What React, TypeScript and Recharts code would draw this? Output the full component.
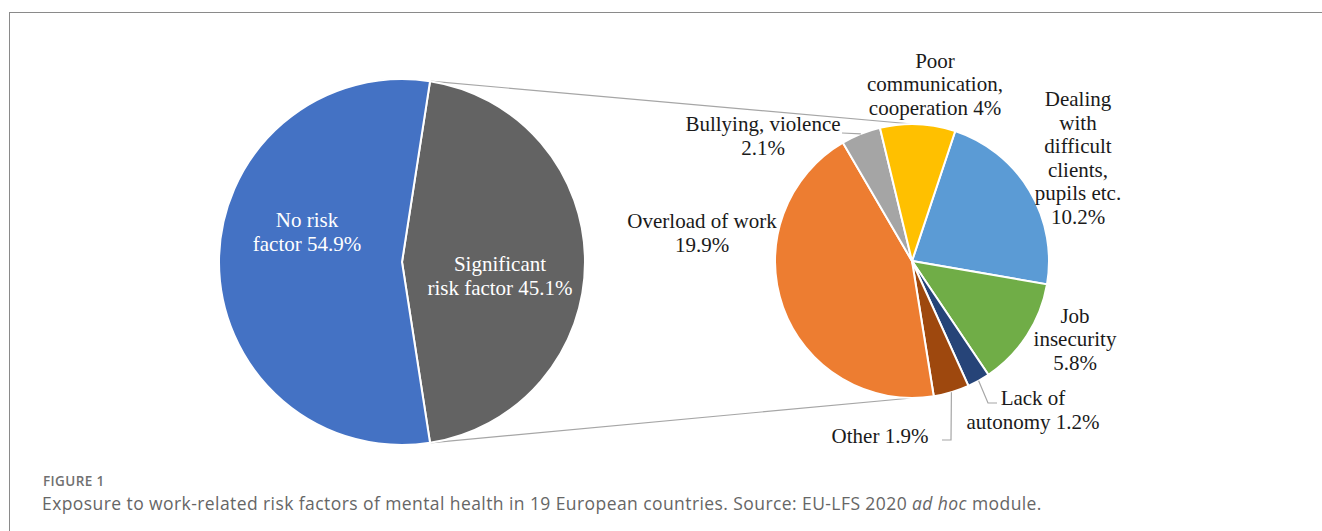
import { PieChart, Pie, Cell } from 'recharts';

// left pie: total split
const mainNames = ['Significant risk factor', 'No risk factor'];
const mainValues = [45.1, 54.9];
const mainColors = ['#636363', '#4472C4'];

// right pie: breakdown of the significant share (clockwise from top)
const riskNames = [
  'Dealing with difficult clients, pupils etc.',
  'Job insecurity',
  'Lack of autonomy',
  'Other',
  'Overload of work',
  'Bullying, violence',
  'Poor communication, cooperation',
];
const riskValues = [10.2, 5.8, 1.2, 1.9, 19.9, 2.1, 4];
const riskColors = ['#5B9BD5', '#70AD47', '#264478', '#9E480E', '#ED7D31', '#A5A5A5', '#FFC000'];

const mainData = mainNames.map((name, i) => ({ name, value: mainValues[i] }));
const riskData = riskNames.map((name, i) => ({ name, value: riskValues[i] }));

const W = 1322;
const H = 470;
const L = { cx: 402, cy: 262, r: 183 };
const R = { cx: 912, cy: 261, r: 137 };
const FONT = '"Liberation Serif", "Times New Roman", serif';
const FS = 21;
const LH = 23.5;

// label text lines + offsets from the pie centre
const labelLayout: Record<string, { lines: string[]; dx: number; dy: number; leader?: [number, number][] }> = {
  'No risk factor': { lines: ['No risk', 'factor 54.9%'], dx: -95, dy: -30 },
  'Significant risk factor': { lines: ['Significant', 'risk factor 45.1%'], dx: 98, dy: 14 },
  'Poor communication, cooperation': { lines: ['Poor', 'communication,', 'cooperation 4%'], dx: 23, dy: -177 },
  'Dealing with difficult clients, pupils etc.': {
    lines: ['Dealing', 'with', 'difficult', 'clients,', 'pupils etc.', '10.2%'], dx: 166, dy: -103,
  },
  'Bullying, violence': { lines: ['Bullying, violence', '2.1%'], dx: -149, dy: -125, leader: [[-70, -128]] },
  'Overload of work': { lines: ['Overload of work', '19.9%'], dx: -210, dy: -28 },
  'Job insecurity': { lines: ['Job', 'insecurity', '5.8%'], dx: 163, dy: 78 },
  'Lack of autonomy': { lines: ['Lack of', 'autonomy 1.2%'], dx: 121, dy: 149, leader: [[76, 142], [85, 142]] },
  Other: { lines: ['Other 1.9%'], dx: -32, dy: 175, leader: [[39, 179], [30, 179]] },
};

const RAD = Math.PI / 180;

function makeLabel(fill: string) {
  return (props: any) => {
    const { cx, cy, midAngle, outerRadius, name } = props;
    const lay = labelLayout[name];
    if (!lay) return null;
    const x = cx + lay.dx;
    const y0 = cy + lay.dy - ((lay.lines.length - 1) * LH) / 2 + FS * 0.34;
    let leader = null;
    if (lay.leader) {
      const sx = cx + outerRadius * Math.cos(-midAngle * RAD);
      const sy = cy + outerRadius * Math.sin(-midAngle * RAD);
      const pts = [[sx, sy], ...lay.leader.map(([a, b]) => [cx + a, cy + b])];
      leader = <polyline points={pts.map((p) => p.join(',')).join(' ')} fill="none" stroke="#a6a6a6" strokeWidth={1.2} />;
    }
    return (
      <g key={name}>
        {leader}
        <text x={x} y={y0} textAnchor="middle" fill={fill} fontFamily={FONT} fontSize={FS}>
          {lay.lines.map((ln, i) => (
            <tspan key={i} x={x} y={y0 + i * LH}>{ln}</tspan>
          ))}
        </text>
      </g>
    );
  };
}

// connector lines from the split edges of the left pie to the right pie
function Connectors() {
  const half = ((mainValues[0] / (mainValues[0] + mainValues[1])) * 360) / 2;
  const tx = L.cx + L.r * Math.cos(half * RAD);
  const ty = L.cy - L.r * Math.sin(half * RAD);
  const by = L.cy + L.r * Math.sin(half * RAD);
  return (
    <svg width={W} height={H} style={{ position: 'absolute', left: 0, top: 0 }}>
      <line x1={tx} y1={ty} x2={R.cx} y2={R.cy - R.r} stroke="#a6a6a6" strokeWidth={1.2} />
      <line x1={tx} y1={by} x2={R.cx} y2={R.cy + R.r} stroke="#a6a6a6" strokeWidth={1.2} />
    </svg>
  );
}

export default function App() {
  const half = ((mainValues[0] / (mainValues[0] + mainValues[1])) * 360) / 2;
  return (
    <div style={{ position: 'absolute', left: 0, top: 0, width: W, height: 531, background: '#fff', overflow: 'hidden' }}>
      <div style={{ position: 'absolute', left: 9, top: 12, width: W, height: 531, borderLeft: '1.5px solid #8a8a8a', borderTop: '1.5px solid #8a8a8a' }} />
      <Connectors />
      <div style={{ position: 'absolute', left: 0, top: 0 }}>
        <PieChart width={W} height={H} margin={{ top: 0, right: 0, bottom: 0, left: 0 }}>
          <Pie
            data={mainData}
            dataKey="value"
            nameKey="name"
            cx={L.cx}
            cy={L.cy}
            outerRadius={L.r}
            startAngle={-half}
            endAngle={360 - half}
            stroke="#fff"
            strokeWidth={2}
            label={makeLabel('#fff')}
            labelLine={false}
            isAnimationActive={false}
          >
            {mainData.map((d, i) => <Cell key={d.name} fill={mainColors[i]} />)}
          </Pie>
          <Pie
            data={riskData}
            dataKey="value"
            nameKey="name"
            cx={R.cx}
            cy={R.cy}
            outerRadius={R.r}
            startAngle={71.6}
            endAngle={71.6 - 360}
            stroke="#fff"
            strokeWidth={2}
            label={makeLabel('#1a1a1a')}
            labelLine={false}
            isAnimationActive={false}
          >
            {riskData.map((d, i) => <Cell key={d.name} fill={riskColors[i]} />)}
          </Pie>
        </PieChart>
      </div>
      <div style={{ position: 'absolute', left: 43, top: 474, lineHeight: '14px', fontFamily: '"Open Sans", sans-serif', fontSize: 13.5, color: '#707070', fontWeight: 600, letterSpacing: 0.4 }}>
        FIGURE 1
      </div>
      <div style={{ position: 'absolute', left: 42, top: 492, lineHeight: '22px', fontFamily: '"Open Sans", sans-serif', fontSize: 17.5, color: '#666', fontWeight: 400, letterSpacing: 0.42 }}>
        Exposure to work-related risk factors of mental health in 19 European countries. Source: EU-LFS 2020 <i>ad hoc</i> module.
      </div>
    </div>
  );
}
